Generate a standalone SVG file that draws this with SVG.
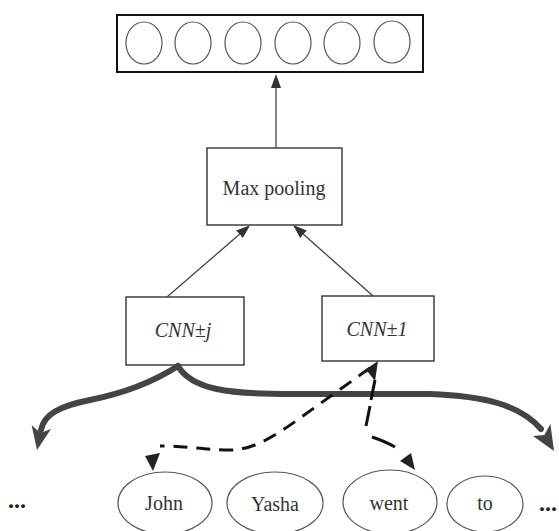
<svg xmlns="http://www.w3.org/2000/svg" width="559" height="531" viewBox="0 0 559 531">
<style>
.box{fill:#fff;stroke:#333;stroke-width:1.4}
.unit{fill:none;stroke:#555;stroke-width:1.2}
.word{fill:#fff;stroke:#555;stroke-width:1.2}
.t{font-family:"Liberation Serif","Times New Roman",serif;font-size:20px;fill:#333;text-anchor:middle}
.it{font-style:italic}
.dots{font-family:"Liberation Serif","Times New Roman",serif;font-size:24px;font-weight:bold;fill:#222}
.thin{fill:none;stroke:#444;stroke-width:1.3}
.thick{fill:none;stroke:#444;stroke-width:6;stroke-linecap:round}
.dash{fill:none;stroke:#111;stroke-width:3;stroke-dasharray:14 9}
.seg{fill:none;stroke:#111;stroke-width:3}
.head{fill:#222}
.thead{fill:#444}
</style>
<defs>
<marker id="arr" markerUnits="userSpaceOnUse" viewBox="0 -6 14 12" markerWidth="14" markerHeight="12" refX="2" refY="0" orient="auto">
<path d="M0,-5 L14,0 L0,5 Z" fill="#333"/>
</marker>
</defs>
<rect width="559" height="531" fill="#fff"/>
<g id="output">
<rect x="117" y="15" width="306" height="57" fill="#fff" stroke="#111" stroke-width="2"/>
<ellipse class="unit" cx="144" cy="43" rx="18" ry="21"/>
<ellipse class="unit" cx="193" cy="43" rx="18" ry="21"/>
<ellipse class="unit" cx="243" cy="43" rx="18" ry="21"/>
<ellipse class="unit" cx="293" cy="43" rx="18" ry="21"/>
<ellipse class="unit" cx="342" cy="43" rx="18" ry="21"/>
<ellipse class="unit" cx="392" cy="42" rx="18" ry="21"/>
</g>
<g id="maxpool">
<rect class="box" x="207" y="148" width="135" height="77"/>
<text class="t" x="274" y="195">Max pooling</text>
</g>
<g id="cnnj">
<rect class="box" x="126" y="297" width="118" height="68"/>
<text class="t it" x="183" y="337">CNN±j</text>
</g>
<g id="cnn1">
<rect class="box" x="322" y="296" width="112" height="65"/>
<text class="t it" x="377" y="336">CNN±1</text>
</g>
<g id="dotsL"><text class="dots" x="8" y="508">...</text></g>
<g id="john"><ellipse class="word" cx="165" cy="503" rx="47" ry="31"/><text class="t" x="164" y="510">John</text></g>
<g id="yasha"><ellipse class="word" cx="275" cy="503" rx="48" ry="31"/><text class="t" x="275" y="511">Yasha</text></g>
<g id="went"><ellipse class="word" cx="390" cy="502" rx="47" ry="32"/><text class="t" x="389" y="510">went</text></g>
<g id="to"><ellipse class="word" cx="485" cy="504" rx="38" ry="28"/><text class="t" x="485" y="510">to</text></g>
<g id="dotsR"><text class="dots" x="539" y="511">...</text></g>
<g id="connectors">
<line class="thin" x1="276" y1="148" x2="276" y2="86" marker-end="url(#arr)"/>
<line class="thin" x1="167" y1="297" x2="241" y2="233" marker-end="url(#arr)"/>
<line class="thin" x1="373" y1="296" x2="302" y2="233" marker-end="url(#arr)"/>
<path class="thick" d="M178,366 C150,384 120,394 90,400 C60,406 44,414 41,430"/>
<polygon class="thead" points="37,450 51,429 40.4,433 31.6,425"/>
<path class="thick" d="M178,366 C192,390 230,394 290,394 L430,394 C485,396 520,405 541,429"/>
<polygon class="thead" points="554,451 533,436 544.4,435 550.4,424"/>
<path class="dash" d="M370,368 L300,418 C270,440 250,450 230,450 C205,450 185,446 160,446"/>
<polygon class="head" points="153,471 145,456 160,453"/>
<path class="seg" d="M375,380 L371,400 M370,406 L366,426 M372,437 C381,440 388,443 395,447"/>
<polygon class="head" points="378,361 359,374 368,372 375,381"/>
<polygon class="head" points="415,470 400,461 411,453"/>
</g>
</svg>
